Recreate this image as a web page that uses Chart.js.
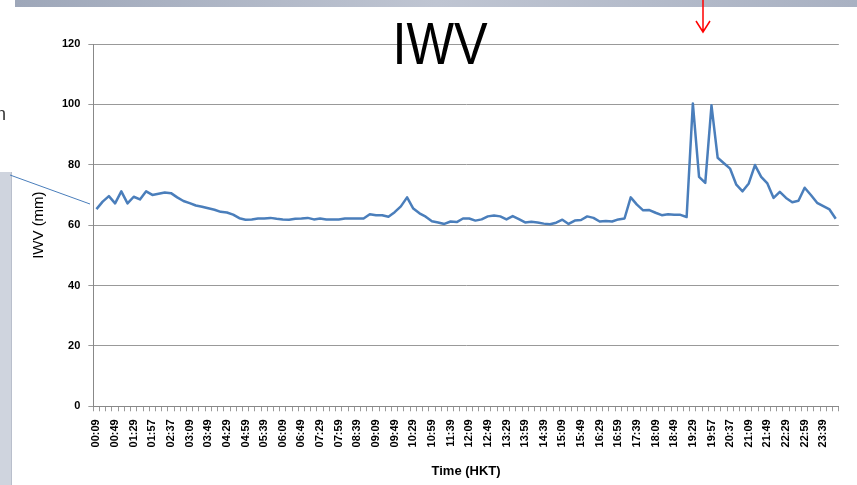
<!DOCTYPE html>
<html>
<head>
<meta charset="utf-8">
<script src="https://cdn.jsdelivr.net/npm/chart.js@4"></script>
<style>
  body { margin: 0; background: #fff; }
  #wrap { position: relative; width: 857px; height: 485px; overflow: hidden; }
  #title {
    position: absolute; left: 340px; top: 14px; width: 200px; text-align: center;
    font: 60px "Liberation Sans", Arial, sans-serif; line-height: 60px; color: #000;
    transform: scaleX(0.84); transform-origin: center;
  }
  #frag { position: absolute; left: -4px; top: 104px; font: 18px "Liberation Sans", Arial, sans-serif; color: #333; }
</style>
</head>
<body>
<div id="wrap">
  <canvas id="iwvChart"></canvas>
  <div id="title">IWV</div>
  <div id="frag">n</div>
</div>
<script>
// x축 눈금 라벨 (3칸마다 하나)
var tickLabels = ['00:09','00:49','01:29','01:57','02:37','03:09','03:49','04:29','04:59','05:39',
  '06:09','06:49','07:29','07:59','08:39','09:09','09:49','10:29','10:59','11:39',
  '12:09','12:49','13:29','13:59','14:39','15:09','15:49','16:29','16:59','17:39',
  '18:09','18:49','19:29','19:57','20:37','21:09','21:49','22:29','22:59','23:39'];

// IWV 값 (mm)
var iwvValues = [
  65.3, 67.8, 69.6, 67.2, 71.2, 67.2, 69.4, 68.5, 71.2, 70.0,
  70.4, 70.8, 70.6, 69.2, 68.0, 67.3, 66.5, 66.1, 65.6, 65.1,
  64.4, 64.2, 63.5, 62.3, 61.8, 61.9, 62.2, 62.2, 62.4, 62.1,
  61.9, 61.8, 62.1, 62.2, 62.4, 61.9, 62.2, 61.9, 61.9, 61.9,
  62.2, 62.2, 62.2, 62.2, 63.6, 63.3, 63.3, 62.8, 64.3, 66.2,
  69.2, 65.5, 63.9, 62.8, 61.3, 60.9, 60.4, 61.2, 61.0, 62.2,
  62.2, 61.5, 61.9, 62.9, 63.2, 62.9, 61.9, 63.0, 62.0, 60.9,
  61.1, 60.9, 60.5, 60.3, 60.8, 61.8, 60.4, 61.5, 61.7, 62.9,
  62.4, 61.2, 61.4, 61.2, 61.9, 62.2, 69.2, 66.8, 64.9, 65.0,
  64.1, 63.3, 63.6, 63.4, 63.4, 62.7, 100.3, 76.0, 74.0, 99.7,
  82.3, 80.5, 78.7, 73.4, 71.2, 73.8, 79.9, 76.0, 73.8, 69.0,
  71.0, 69.0, 67.6, 68.1, 72.4, 70.0, 67.4, 66.3, 65.2, 62.1
];

var labelStep = 3;
var categories = iwvValues.map(function(v, i) {
  return i % labelStep === 0 ? (tickLabels[i / labelStep] || '') : '';
});

// 슬라이드 배경 장식
var decoPlugin = {
  id: 'deco',
  beforeDraw: function(chart) {
    var c = chart.ctx;
    c.save();
    var g = c.createLinearGradient(15, 0, 857, 0);
    g.addColorStop(0, '#9ea7b9');
    g.addColorStop(0.5, '#bfc5d2');
    g.addColorStop(1, '#a9b1c2');
    c.fillStyle = g;
    c.fillRect(15, 0, 842, 7);
    c.fillStyle = '#cfd4de';
    c.fillRect(0, 172, 12, 313);
    c.fillStyle = '#b9bfcc';
    c.fillRect(11, 172, 1, 313);
    c.restore();
  },
  afterDraw: function(chart) {
    var c = chart.ctx;
    c.save();
    c.strokeStyle = '#4a7ebb';
    c.lineWidth = 1;
    c.beginPath();
    c.moveTo(10, 175);
    c.lineTo(90, 204);
    c.stroke();
    c.strokeStyle = '#ff0000';
    c.lineWidth = 1.5;
    c.beginPath();
    c.moveTo(703, 0);
    c.lineTo(703, 32);
    c.moveTo(696, 21);
    c.lineTo(703, 32);
    c.lineTo(710, 21);
    c.stroke();
    c.restore();
  }
};

var ctx = document.getElementById('iwvChart').getContext('2d');
var iwvChart = new Chart(ctx, {
  type: 'line',
  data: {
    labels: categories,
    datasets: [{
      data: iwvValues,
      borderColor: '#4a7ebb',
      borderWidth: 2.5,
      borderJoinStyle: 'round',
      pointRadius: 0,
      tension: 0,
      fill: false
    }]
  },
  options: {
    responsive: true,
    maintainAspectRatio: false,
    animation: false,
    devicePixelRatio: 1,
    layout: { padding: { left: 24, right: 17, top: 44, bottom: 6 } },
    plugins: {
      legend: { display: false },
      tooltip: { enabled: false }
    },
    scales: {
      x: {
        offset: true,
        grid: { offset: true, drawOnChartArea: false, drawTicks: true, tickLength: 5, color: '#999' },
        border: { color: '#888' },
        ticks: {
          autoSkip: false, minRotation: 90, maxRotation: 90, padding: 8,
          color: '#000', font: { family: 'Liberation Sans', size: 11, weight: 'bold' }
        },
        title: {
          display: true, text: 'Time (HKT)', color: '#000',
          font: { family: 'Liberation Sans', size: 13, weight: 'bold' },
          padding: { top: 8, bottom: 0 }
        }
      },
      y: {
        min: 0, max: 120,
        ticks: {
          stepSize: 20, padding: 8, color: '#000',
          font: { family: 'Liberation Sans', size: 11, weight: 'bold' }
        },
        grid: { color: '#999', tickLength: 5 },
        border: { color: '#888' },
        title: {
          display: true, text: 'IWV (mm)', color: '#000',
          font: { family: 'Liberation Sans', size: 15 },
          padding: { top: 6, bottom: 6 }
        }
      }
    }
  },
  plugins: [decoPlugin]
});
</script>
</body>
</html>
